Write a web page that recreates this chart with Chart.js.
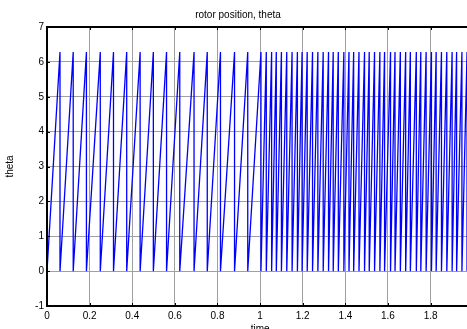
<!DOCTYPE html>
<html>
<head>
<meta charset="utf-8">
<script src="https://cdn.jsdelivr.net/npm/chart.js@4/dist/chart.umd.min.js"></script>
<style>
  html, body { margin: 0; padding: 0; background: #fff; overflow: hidden; }
  #wrap { width: 480px; height: 335px; }
</style>
</head>
<body>
<div id="wrap"><canvas id="thetaChart" width="480" height="335"></canvas></div>
<script>
// times where theta wraps from 2*pi back to 0
const resetTimes = [
  0.061, 0.123, 0.185, 0.250, 0.312, 0.374, 0.437, 0.499, 0.561, 0.623,
  0.690, 0.752, 0.814, 0.880, 0.942, 1.004,
  1.029, 1.054, 1.076, 1.100, 1.125, 1.150, 1.175, 1.197, 1.221, 1.246,
  1.271, 1.296, 1.321, 1.343, 1.367, 1.393, 1.417, 1.439, 1.464, 1.490,
  1.512, 1.537, 1.562, 1.584, 1.612, 1.633, 1.658, 1.683, 1.705, 1.733,
  1.754, 1.779, 1.804, 1.826, 1.851, 1.876, 1.901, 1.922, 1.947, 1.971, 1.995
];
const thetaMax = 6.28;
const thetaMin = 0;
const xTicks = [0, 0.2, 0.4, 0.6, 0.8, 1, 1.2, 1.4, 1.6, 1.8, 2];
const yTicks = [-1, 0, 1, 2, 3, 4, 5, 6, 7];

const points = [{ x: 0, y: thetaMin }];
resetTimes.forEach(t => {
  points.push({ x: t, y: thetaMax });
  points.push({ x: t, y: thetaMin });
});

const font = { family: "Arial, 'Liberation Sans', Helvetica, sans-serif", size: 10 };

// box round the axes plus the little inward tick marks, matlab style
const frame = {
  id: "frame",
  afterDraw(chart) {
    const { ctx, chartArea: a, scales } = chart;
    ctx.save();
    ctx.strokeStyle = "#000";
    ctx.lineWidth = 1;
    xTicks.forEach(v => {
      const px = Math.round(scales.x.getPixelForValue(v)) + 0.5;
      ctx.beginPath();
      ctx.moveTo(px, a.top); ctx.lineTo(px, a.top + 3);
      ctx.moveTo(px, a.bottom); ctx.lineTo(px, a.bottom - 3);
      ctx.stroke();
    });
    yTicks.forEach(v => {
      const py = Math.round(scales.y.getPixelForValue(v)) + 0.5;
      ctx.beginPath();
      ctx.moveTo(a.left, py); ctx.lineTo(a.left + 3, py);
      ctx.stroke();
    });
    ctx.lineWidth = 2;
    ctx.strokeRect(a.left, a.top, a.right - a.left, a.bottom - a.top);
    ctx.restore();
  }
};

new Chart(document.getElementById("thetaChart"), {
  type: "line",
  data: {
    datasets: [{
      label: "theta",
      data: points,
      borderColor: "#0000ff",
      borderWidth: 1.3,
      pointRadius: 0,
      tension: 0,
      fill: false
    }]
  },
  options: {
    responsive: false,
    animation: false,
    layout: { padding: { left: 0, right: 4, top: 0, bottom: 0 } },
    plugins: {
      legend: { display: false },
      tooltip: { enabled: false },
      title: {
        display: true,
        text: "rotor position, theta",
        color: "#000",
        font: { ...font, weight: "normal" },
        padding: { top: 9, bottom: 6 }
      }
    },
    scales: {
      x: {
        type: "linear",
        min: 0,
        max: 2,
        afterBuildTicks: s => { s.ticks = xTicks.map(v => ({ value: v })); },
        afterFit: s => { s.height = 29; },
        ticks: { color: "#000", font, padding: 4, maxRotation: 0, autoSkip: false,
                 callback: v => String(Math.round(v * 10) / 10) },
        grid: { color: "#a0a0a0", drawTicks: false },
        border: { display: false },
        title: { display: true, text: "time", color: "#000", font, padding: { top: 0, bottom: 0 } }
      },
      y: {
        min: -1,
        max: 7,
        afterBuildTicks: s => { s.ticks = yTicks.map(v => ({ value: v })); },
        afterFit: s => { s.width = 47; },
        ticks: { color: "#000", font, padding: 3 },
        grid: { color: "#a0a0a0", drawTicks: false },
        border: { display: false },
        title: { display: true, text: "theta", color: "#000", font, padding: 4 }
      }
    }
  },
  plugins: [frame]
});
</script>
</body>
</html>
